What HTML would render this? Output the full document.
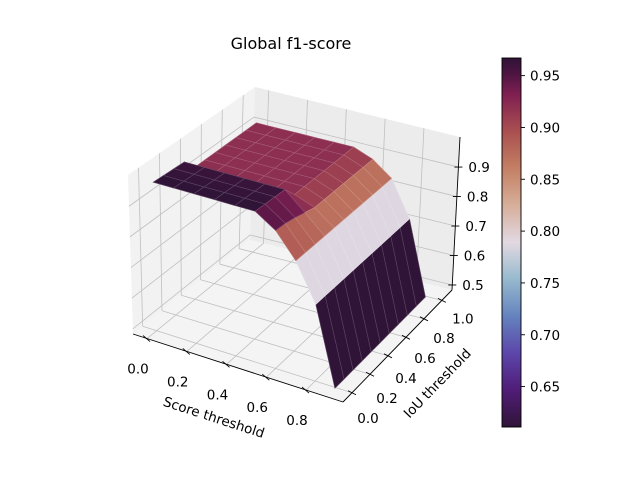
<!DOCTYPE html>
<html><head><meta charset="utf-8"><title>Global f1-score</title>
<style>
html,body{margin:0;padding:0;background:#fff;}
svg{display:block;font-family:"DejaVu Sans","Liberation Sans",sans-serif;}
</style></head>
<body>
<svg id="chart" width="640" height="480" viewBox="0 0 640 480" xmlns="http://www.w3.org/2000/svg">
<rect x="0" y="0" width="640" height="480" fill="#ffffff"/>
<text x="291" y="49" font-size="16" text-anchor="middle" fill="#000">Global f1-score</text>
<g id="panes"></g>
<g id="grid"></g>
<g id="surface"></g>
<g id="axes"></g>
<g id="cbar"></g>
</svg>
<script>
// ---- data ----
const scoreValues = [0.0,0.1,0.2,0.3,0.4,0.5,0.6,0.7,0.8,0.9];
const iouValues = [0.0,0.1,0.2,0.3,0.4,0.5,0.6,0.7,0.8,0.9,1.0];
const f1Row0 = [0.968,0.968,0.968,0.968,0.968,0.968,0.925,0.847,0.727,0.48];
const f1Row1 = [0.966,0.966,0.966,0.966,0.966,0.966,0.922,0.847,0.727,0.48];
const f1Row2 = [0.964,0.964,0.964,0.964,0.964,0.964,0.915,0.847,0.727,0.48];
const f1Row3 = [0.962,0.962,0.962,0.962,0.962,0.962,0.905,0.847,0.727,0.48];
const f1RowRest = [0.92,0.92,0.92,0.92,0.92,0.92,0.895,0.847,0.727,0.48];
const f1Rows = [f1Row0,f1Row1,f1Row2,f1Row3,f1RowRest,f1RowRest,f1RowRest,f1RowRest,f1RowRest,f1RowRest,f1RowRest];
const xTickLabels = ["0.0","0.2","0.4","0.6","0.8"];
const yTickLabels = ["0.0","0.2","0.4","0.6","0.8","1.0"];
const zTickLabels = ["0.5","0.6","0.7","0.8","0.9"];
const cbarTickLabels = ["0.65","0.70","0.75","0.80","0.85","0.90","0.95"];
const colorMin = 0.611, colorMax = 0.967;

// ---- projection (box geometry) ----
const XMIN=-0.0706, XMAX=0.986, YMIN=-0.1, YMAX=1.112, ZMIN=0.483, ZMAX=1.002;
const FA=[133,334], FB=[343,402], FC=[452,290], FD=[250,240];
const TA=[128,175], TB=[345,237], TC=[460,137], TD=[255,87];
function bil(P,Q,R,S,u,v){
  const a=(1-u)*(1-v), b=u*(1-v), c=u*v, d=(1-u)*v;
  return [P[0]*a+Q[0]*b+R[0]*c+S[0]*d, P[1]*a+Q[1]*b+R[1]*c+S[1]*d];
}
function proj(x,y,z){
  const u=(x-XMIN)/(XMAX-XMIN), v=(y-YMIN)/(YMAX-YMIN), w=(z-ZMIN)/(ZMAX-ZMIN);
  const f=bil(FA,FB,FC,FD,u,v), t=bil(TA,TB,TC,TD,u,v);
  return [f[0]+(t[0]-f[0])*w, f[1]+(t[1]-f[1])*w];
}
function depth(x,y,z){
  const u=(x-XMIN)/(XMAX-XMIN), v=(y-YMIN)/(YMAX-YMIN), w=(z-ZMIN)/(ZMAX-ZMIN);
  return u*0.5 - v*0.87 + w*0.5;
}
// twilight_shifted approx
const cmStops=[[0,[48,20,55]],[0.1,[80,28,120]],[0.2,[92,70,170]],[0.3,[100,130,190]],[0.4,[150,185,205]],[0.5,[226,217,226]],[0.6,[215,175,155]],[0.7,[196,128,100]],[0.8,[170,80,80]],[0.9,[128,32,82]],[0.96,[75,20,65]],[1,[48,20,55]]];
function cmap(val){
  let t=(val-colorMin)/(colorMax-colorMin); t=Math.max(0,Math.min(1,t));
  for(let i=1;i<cmStops.length;i++){
    if(t<=cmStops[i][0]){
      const [t0,c0]=cmStops[i-1],[t1,c1]=cmStops[i]; const k=(t-t0)/(t1-t0);
      return 'rgb('+c0.map((c,j)=>Math.round(c+(c1[j]-c)*k)).join(',')+')';
    }
  }
  return 'rgb(48,20,55)';
}
const NS='http://www.w3.org/2000/svg';
function mk(tag,attrs,parent){const e=document.createElementNS(NS,tag);for(const k in attrs)e.setAttribute(k,attrs[k]);parent.appendChild(e);return e;}
function pts(a){return a.map(p=>p[0].toFixed(1)+','+p[1].toFixed(1)).join(' ');}

// ---- panes ----
const panes=document.getElementById('panes');
let e;
e=mk('polygon',{points:pts([proj(XMIN,YMIN,ZMIN),proj(XMIN,YMAX,ZMIN),proj(XMIN,YMAX,ZMAX),proj(XMIN,YMIN,ZMAX)]),fill:'#f2f2f2'},panes);


e=mk('polygon',{points:pts([proj(XMIN,YMAX,ZMIN),proj(XMAX,YMAX,ZMIN),proj(XMAX,YMAX,ZMAX),proj(XMIN,YMAX,ZMAX)]),fill:'#ececec'},panes);


e=mk('polygon',{points:pts([proj(XMIN,YMIN,ZMIN),proj(XMAX,YMIN,ZMIN),proj(XMAX,YMAX,ZMIN),proj(XMIN,YMAX,ZMIN)]),fill:'#f4f4f4'},panes);



// ---- grid ----
const grid=document.getElementById('grid');
function gline(a,b,name){const l=mk('line',{x1:a[0],y1:a[1],x2:b[0],y2:b[1],stroke:'#c0c0c0','stroke-width':0.8},grid);}
xTickLabels.forEach(s=>{const x=parseFloat(s);
  gline(proj(x,YMIN,ZMIN),proj(x,YMAX,ZMIN),'x-grid-floor');
  gline(proj(x,YMAX,ZMIN),proj(x,YMAX,ZMAX),'x-grid-back');});
yTickLabels.forEach(s=>{const y=parseFloat(s);
  gline(proj(XMIN,y,ZMIN),proj(XMAX,y,ZMIN),'y-grid-floor');
  gline(proj(XMIN,y,ZMIN),proj(XMIN,y,ZMAX),'y-grid-left');});
zTickLabels.forEach(s=>{const z=parseFloat(s);
  gline(proj(XMIN,YMIN,z),proj(XMIN,YMAX,z),'z-grid-left');
  gline(proj(XMIN,YMAX,z),proj(XMAX,YMAX,z),'z-grid-back');});

// ---- surface ----
const surf=document.getElementById('surface');
const faces=[];
for(let j=0;j<iouValues.length-1;j++){
  for(let i=0;i<scoreValues.length-1;i++){
    const x0=scoreValues[i],x1=scoreValues[i+1],y0=iouValues[j],y1=iouValues[j+1];
    const z00=f1Rows[j][i],z10=f1Rows[j][i+1],z11=f1Rows[j+1][i+1],z01=f1Rows[j+1][i];
    const avg=(z00+z10+z11+z01)/4;
    faces.push({p:[proj(x0,y0,z00),proj(x1,y0,z10),proj(x1,y1,z11),proj(x0,y1,z01)],c:cmap(avg),d:depth((x0+x1)/2,(y0+y1)/2,avg)});
  }
}
faces.sort((a,b)=>a.d-b.d);
faces.forEach(f=>{
  const poly=mk('polygon',{points:pts(f.p),fill:f.c,stroke:f.c,'stroke-width':0.6},surf);
  
  
  const ln=mk('polygon',{points:pts(f.p),fill:'none',stroke:'rgba(255,255,255,0.22)','stroke-width':0.6},surf);
  
  
});

// ---- axes ----
const axes=document.getElementById('axes');
function aline(a,b,name,w){const l=mk('line',{x1:a[0],y1:a[1],x2:b[0],y2:b[1],stroke:'#000','stroke-width':w||0.9},axes);}
function txt(x,y,s,name,extra){const t=mk('text',Object.assign({x:x,y:y,'font-size':13.5,'text-anchor':'middle',fill:'#000'},extra||{}),axes);t.textContent=s;return t;}
aline(proj(XMIN,YMIN,ZMIN),proj(XMAX,YMIN,ZMIN),'x-axis-line');
aline(proj(XMAX,YMIN,ZMIN),proj(XMAX,YMAX,ZMIN),'y-axis-line');
aline(proj(XMAX,YMAX,ZMIN),proj(XMAX,YMAX,ZMAX),'z-axis-line');
xTickLabels.forEach(s=>{const x=parseFloat(s);const p=proj(x,YMIN,ZMIN);
  aline([p[0]-4,p[1]-3],[p[0]+3,p[1]+3],'x-tick');
  txt(p[0]-9,p[1]+35,s,'x-tick-label');});
yTickLabels.forEach(s=>{const y=parseFloat(s);const p=proj(XMAX,y,ZMIN);
  aline([p[0]-4,p[1]-2],[p[0]+4,p[1]+2],'y-tick');
  txt(p[0]+16+5*y,p[1]+30-7*y,s,'y-tick-label');});
zTickLabels.forEach(s=>{const z=parseFloat(s);const p=proj(XMAX,YMAX,z);
  aline([p[0]-4,p[1]],[p[0]+4,p[1]],'z-tick');
  txt(p[0]+10,p[1]+5,s,'z-tick-label',{'text-anchor':'start'});});
txt(214,422,'Score threshold','x-axis-title',{transform:'rotate(18 214 417)'});
txt(437,388,'IoU threshold','y-axis-title',{transform:'rotate(-46 437 383)'});

// ---- colorbar ----
const cb=document.getElementById('cbar');
const CBX=502,CBW=19,CBT=58,CBB=427;
const cbPx=v=>CBT+(colorMax-v)/(colorMax-colorMin)*(CBB-CBT);
for(let yy=CBT;yy<CBB;yy+=1){
  const v=colorMax-(yy+0.5-CBT)/(CBB-CBT)*(colorMax-colorMin);
  const r=mk('rect',{x:CBX,y:yy,width:CBW,height:1.2,fill:cmap(v)},cb);
  
  
}
e=mk('rect',{x:CBX,y:CBT,width:CBW,height:CBB-CBT,fill:'none',stroke:'#000','stroke-width':0.9},cb);


cbarTickLabels.forEach(s=>{const v=parseFloat(s);const y=cbPx(v);
  const l=mk('line',{x1:CBX+CBW,y1:y,x2:CBX+CBW+4,y2:y,stroke:'#000','stroke-width':0.9},cb);
  
  
  const t=mk('text',{x:CBX+CBW+9,y:y+5,'font-size':13.5,fill:'#000'},cb);
  t.textContent=s;
  
  
});
</script>
</body></html>
